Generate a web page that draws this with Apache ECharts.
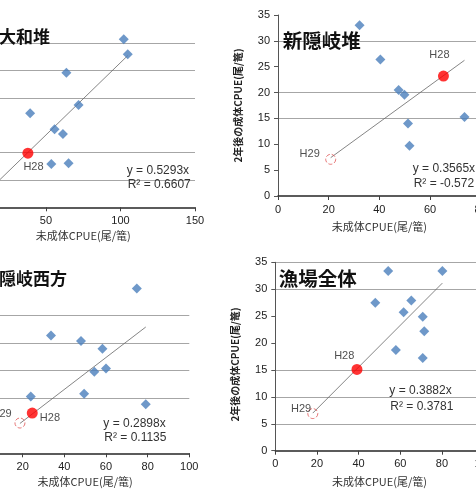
<!DOCTYPE html>
<html>
<head>
<meta charset="utf-8">
<script src="https://cdn.jsdelivr.net/npm/echarts@6/dist/echarts.min.js"></script>
<style>
  html, body { margin: 0; padding: 0; background: #fff; }
  #chart { width: 476px; height: 493px; }
</style>
</head>
<body>
<div id="chart"></div>
<script>
// 未成体CPUE (x) と 2年後の成体CPUE (y)
var titles = ["大和堆", "新隠岐堆", "隠岐西方", "漁場全体"];

var yamatoPts = [[102.2, 61.5], [104.9, 56.0], [63.7, 49.2], [71.9, 37.4], [39.4, 34.4],
  [55.8, 28.6], [61.4, 26.8], [53.6, 15.8], [65.2, 16.1]];
var yamatoH28 = [37.9, 19.8];

var shinOkiPts = [[32.2, 33.0], [40.4, 26.4], [47.6, 20.5], [49.9, 19.6], [51.3, 14.0],
  [51.9, 9.7], [73.6, 15.3]];
var shinOkiH28 = [65.3, 23.2];
var shinOkiH29 = [20.8, 7.1];

var okiWestPts = [[74.8, 29.9], [33.6, 21.4], [48.0, 20.4], [58.3, 19.0], [60.0, 15.4],
  [54.4, 14.8], [49.5, 10.8], [23.9, 10.3], [79.1, 8.9]];
var okiWestH28 = [24.6, 7.3];
var okiWestH29 = [18.7, 5.5];

var allPts = [[54.2, 33.4], [80.2, 33.4], [48.0, 27.5], [65.3, 27.9], [61.6, 25.7],
  [70.8, 24.9], [71.5, 22.2], [57.9, 18.7], [70.8, 17.2]];
var allH28 = [39.2, 15.1];
var allH29 = [18.0, 6.9];

var slopes = [0.5293, 0.3565, 0.2898, 0.3882];
var eqText = ["y = 0.5293x", "y = 0.3565x", "y = 0.2898x", "y = 0.3882x"];
var r2Text = ["R² = 0.6607", "R² = -0.572", "R² = 0.1135", "R² = 0.3781"];

var xMax = [150, 80, 100, 100];
var xStep = [50, 20, 20, 20];
var yMax = [70, 35, 35, 35];
var yStep = [10, 5, 5, 5];
// gridlines that show up in the picture
var shownGrid = [[10, 20, 40, 50, 60], [15, 20, 30], [10, 15, 20, 25], [5, 10, 15, 30, 35]];

var panels = [
  { pts: yamatoPts, h28: yamatoH28, h29: null },
  { pts: shinOkiPts, h28: shinOkiH28, h29: shinOkiH29 },
  { pts: okiWestPts, h28: okiWestH28, h29: okiWestH29 },
  { pts: allPts, h28: allH28, h29: allH29 }
];

// layout (px)
var grids = [
  { left: -28.6, top: 16, width: 223.6, height: 191.3 },
  { left: 278, top: 15, width: 202.7, height: 181 },
  { left: -19, top: 260.5, width: 208.3, height: 192.8 },
  { left: 275.3, top: 262.3, width: 208.3, height: 188.4 }
];
grids.forEach(function (g) { g.outerBoundsMode = "none"; g.containLabel = false; });
var xNameGap = [23.5, 25.5, 23, 25.5];
var yNamePad = [[0, 0, 0, 0], [0, 0, 0, 0], [0, 0, 0, 0], [0, 16, 0, 0]];
var h28Off = [[5.6, 13.4], [-4, -21], [17.7, 5], [-12.7, -13.6]];
var h29Off = [null, [-21, -5.3], [-18.3, -9.4], [-11.7, -4.3]];
var titlePos = [[-1, 36.7, 17], [282.7, 40.7, 19.5], [-1, 278.3, 17], [278.7, 278.3, 19.5]];
var eqPos = [[126.7, 171, 185], [412.7, 169, 184], [103.3, 423.3, 437.7], [389.3, 391, 406.7]];

var latin = "'Liberation Sans', 'Noto Sans CJK JP', sans-serif";
var cjk = "'Noto Sans CJK JP', sans-serif";

var myChart = echarts.init(document.getElementById("chart"));
var xAxes = [], yAxes = [], series = [], graphics = [];

for (var i = 0; i < 4; i++) {
  var ticks = [];
  for (var v = 0; v <= yMax[i]; v += yStep[i]) ticks.push(v);
  var gridColors = ticks.map(function (t) {
    return shownGrid[i].indexOf(t) >= 0 ? "#a6a6a6" : "rgba(0,0,0,0)";
  });

  xAxes.push({
    gridIndex: i, type: "value", min: 0, max: xMax[i], interval: xStep[i],
    name: "未成体CPUE(尾/篭)", nameLocation: "middle", nameGap: xNameGap[i],
    nameTextStyle: { fontFamily: cjk, fontSize: 11, color: "#333" },
    axisLine: { lineStyle: { color: "#262626", width: 1.5 } },
    axisTick: { show: true, length: 4, lineStyle: { color: "#404040" } },
    axisLabel: { fontFamily: latin, fontSize: 11, color: "#222", margin: 8 },
    splitLine: { show: false }
  });
  yAxes.push({
    gridIndex: i, type: "value", min: 0, max: yMax[i], interval: yStep[i],
    name: "2年後の成体CPUE(尾/篭)", nameLocation: "middle", nameGap: 35,
    nameTextStyle: { fontFamily: cjk, fontSize: 10, fontWeight: "bold", color: "#222",
      padding: yNamePad[i] },
    axisLine: { show: true, lineStyle: { color: "#555", width: 1 } },
    axisTick: { show: true, length: 4, lineStyle: { color: "#555" } },
    axisLabel: { fontFamily: latin, fontSize: 11, color: "#222", margin: 8 },
    splitLine: { show: true, lineStyle: { color: gridColors, width: 1 } }
  });

  var p = panels[i];
  var xs = p.pts.map(function (d) { return d[0]; }).concat([p.h28[0]]);
  var x0 = p.h29 ? p.h29[0] : 0;
  var x1 = Math.max.apply(null, xs);
  series.push({
    type: "line", xAxisIndex: i, yAxisIndex: i, symbol: "none", z: 1,
    lineStyle: { color: "#666", width: 0.8 },
    data: [[x0, slopes[i] * x0], [x1, slopes[i] * x1]]
  });
  series.push({
    type: "scatter", xAxisIndex: i, yAxisIndex: i, symbol: "diamond", symbolSize: 10, z: 3,
    itemStyle: { color: "#4a7ebb" },
    data: p.pts
  });
  series.push({
    type: "scatter", xAxisIndex: i, yAxisIndex: i, symbol: "circle", symbolSize: 11, z: 4,
    itemStyle: { color: "#ff0000" },
    label: { show: true, formatter: "H28", position: "inside", offset: h28Off[i],
      fontFamily: latin, fontSize: 11, color: "#222" },
    data: [p.h28]
  });
  if (p.h29) {
    series.push({
      type: "scatter", xAxisIndex: i, yAxisIndex: i, symbol: "circle", symbolSize: 10, z: 4,
      itemStyle: { color: "rgba(255,255,255,0)", borderColor: "#e05555", borderWidth: 1, borderType: "dashed" },
      label: { show: true, formatter: "H29", position: "inside", offset: h29Off[i],
        fontFamily: latin, fontSize: 11, color: "#222" },
      data: [p.h29]
    });
  }

  graphics.push({
    type: "text", x: titlePos[i][0], y: titlePos[i][1], z: 10,
    style: { text: titles[i], fill: "#111", verticalAlign: "middle",
      font: "bold " + titlePos[i][2] + "px " + cjk }
  });
  graphics.push({
    type: "text", x: eqPos[i][0], y: eqPos[i][1], z: 10,
    style: { text: eqText[i], fill: "#333", verticalAlign: "middle", font: "12px " + latin }
  });
  graphics.push({
    type: "text", x: eqPos[i][0] + 1, y: eqPos[i][2], z: 10,
    style: { text: r2Text[i], fill: "#333", verticalAlign: "middle", font: "12px " + latin }
  });
}

var option = {
  animation: false,
  backgroundColor: "#fff",
  grid: grids,
  xAxis: xAxes,
  yAxis: yAxes,
  series: series,
  graphic: graphics
};
option && myChart.setOption(option);
</script>
</body>
</html>
